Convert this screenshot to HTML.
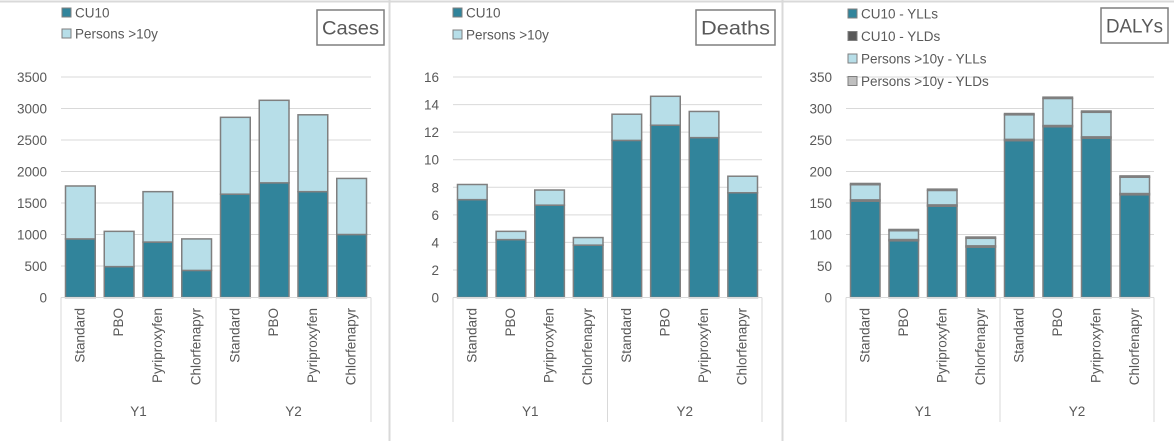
<!DOCTYPE html>
<html><head><meta charset="utf-8">
<style>
html,body{margin:0;padding:0;background:#fff;}
body{width:1174px;height:441px;overflow:hidden;position:relative;font-family:"Liberation Sans",sans-serif;}
svg{position:absolute;left:0;top:0;}
text{font-family:"Liberation Sans",sans-serif;fill:#595959;}
</style></head>
<body>
<svg id="chart" width="1174" height="441"></svg>
<script>
const categories = ["Standard","PBO","Pyriproxyfen","Chlorfenapyr","Standard","PBO","Pyriproxyfen","Chlorfenapyr"];
const groups = ["Y1","Y2"];
const casesCU10 = [930,490,880,430,1640,1820,1680,1000];
const casesOver10 = [840,560,800,500,1220,1310,1220,890];
const casesTicks = [0,500,1000,1500,2000,2500,3000,3500];
const deathsCU10 = [7.1,4.2,6.7,3.8,11.4,12.5,11.6,7.6];
const deathsOver10 = [1.1,0.6,1.1,0.55,1.9,2.1,1.9,1.2];
const deathsTicks = [0,2,4,6,8,10,12,14,16];
const dalyCU10YLL = [153,90,145,80,249,271,253,163];
const dalyCU10YLD = [2,2,2,2,2,2,2,2];
const dalyOver10YLL = [24,14,23,12,39,43,39,26];
const dalyOver10YLD = [2,2,2,2,2,2,2,2];
const dalyTicks = [0,50,100,150,200,250,300,350];

const NS="http://www.w3.org/2000/svg";
const svg=document.getElementById('chart');
function mk(tag,attrs,parent){const e=document.createElementNS(NS,tag);for(const k in attrs)e.setAttribute(k,attrs[k]);(parent||svg).appendChild(e);return e;}

mk('line',{x1:0,y1:1.5,x2:1174,y2:1.5,stroke:'#d9d9d9','stroke-width':2});
const b1=mk('line',{x1:389.5,y1:0,x2:389.5,y2:441,stroke:'#d9d9d9','stroke-width':2});


const b2=mk('line',{x1:782.5,y1:0,x2:782.5,y2:441,stroke:'#d9d9d9','stroke-width':2});



const colors=['#31849b','#595959','#b7dee8','#bfbfbf'];

function panel(cfg){
  const g=mk('g',{});
  
  
  const x0=cfg.x0,x1=cfg.x1,yTop=77,yBot=297.5,max=cfg.ticks[cfg.ticks.length-1];
  const yS=v=>yBot-(v/max)*(yBot-yTop);
  const cw=(x1-x0)/categories.length;
  cfg.ticks.forEach(t=>{
    const y=yS(t);
    if(t>0){const l=mk('line',{x1:x0,x2:x1,y1:y,y2:y,stroke:'#d9d9d9','stroke-width':1},g);
      
      }
    const tx=mk('text',{x:x0-14,y:y+5,'text-anchor':'end','font-size':13.5},g);
    tx.textContent=t;
    
    
  });
  categories.forEach((c,i)=>{
    let acc=0;
    const bx=x0+i*cw+4.5,bw=cw-9;
    cfg.series.forEach((s,si)=>{
      const v=s[i];
      const yA=yS(acc),yB=yS(acc+v);acc+=v;
      const r=mk('rect',{x:bx,y:yB,width:bw,height:Math.max(0,yA-yB),fill:cfg.colors[si],stroke:'#7f7f7f','stroke-width':1.5},g);
      
      
    });
    const lx=x0+i*cw+cw/2+4;
    const t=mk('text',{x:0,y:0,transform:`translate(${lx},308) rotate(-90)`,'text-anchor':'end','font-size':13.5},g);
    t.textContent=c;
    
    
  });
  const mid=(x0+x1)/2;
  [x0,mid,x1].forEach(x=>{
    const l=mk('line',{x1:x,x2:x,y1:yBot,y2:422,stroke:'#d9d9d9','stroke-width':1},g);
    
    
  });
  const ax=mk('line',{x1:x0,x2:x1,y1:yBot,y2:yBot,stroke:'#d9d9d9','stroke-width':1},g);
  
  
  groups.forEach((gr,gi)=>{
    const t=mk('text',{x:x0+(gi+0.5)*(x1-x0)/2,y:416,'text-anchor':'middle','font-size':13.5},g);
    t.textContent=gr;
    
    
  });
  cfg.legend.forEach((lab,li)=>{
    const ly=cfg.legY+li*cfg.legStep;
    const sw=mk('rect',{x:cfg.legX,y:ly,width:9,height:9,fill:cfg.colors[li],stroke:'#7f7f7f','stroke-width':1},g);
    
    
    const t=mk('text',{x:cfg.legX+13,y:ly+9.5,'font-size':13.5},g);
    t.textContent=lab;
    
    
  });
  const tb=mk('rect',{x:cfg.tb[0],y:cfg.tb[1],width:cfg.tb[2],height:cfg.tb[3],fill:'#fff',stroke:'#7f7f7f','stroke-width':1.5},g);
  
  
  const tt=mk('text',{x:cfg.tb[0]+cfg.tb[2]/2,y:cfg.tb[1]+cfg.tb[3]/2+7,'text-anchor':'middle','font-size':19,textLength:cfg.tb[2]-10,lengthAdjust:'spacingAndGlyphs'},g);
  tt.textContent=cfg.title;
  
  
}

panel({name:'cases',title:'Cases',x0:61,x1:371,ticks:casesTicks,series:[casesCU10,casesOver10],
  colors:[colors[0],colors[2]],names:['cu10','persons-over-10y'],legend:['CU10','Persons >10y'],
  legX:62,legY:8,legStep:21,tb:[317,10,67,35]});
panel({name:'deaths',title:'Deaths',x0:453,x1:762,ticks:deathsTicks,series:[deathsCU10,deathsOver10],
  colors:[colors[0],colors[2]],names:['cu10','persons-over-10y'],legend:['CU10','Persons >10y'],
  legX:453,legY:8,legStep:22,tb:[696,10,79,35]});
panel({name:'dalys',title:'DALYs',x0:846,x1:1154,ticks:dalyTicks,series:[dalyCU10YLL,dalyCU10YLD,dalyOver10YLL,dalyOver10YLD],
  colors:colors,names:['cu10-ylls','cu10-ylds','persons-over-10y-ylls','persons-over-10y-ylds'],
  legend:['CU10 - YLLs','CU10 - YLDs','Persons >10y - YLLs','Persons >10y - YLDs'],
  legX:848,legY:9,legStep:22.5,tb:[1101,8,67,35]});
</script>
</body></html>
